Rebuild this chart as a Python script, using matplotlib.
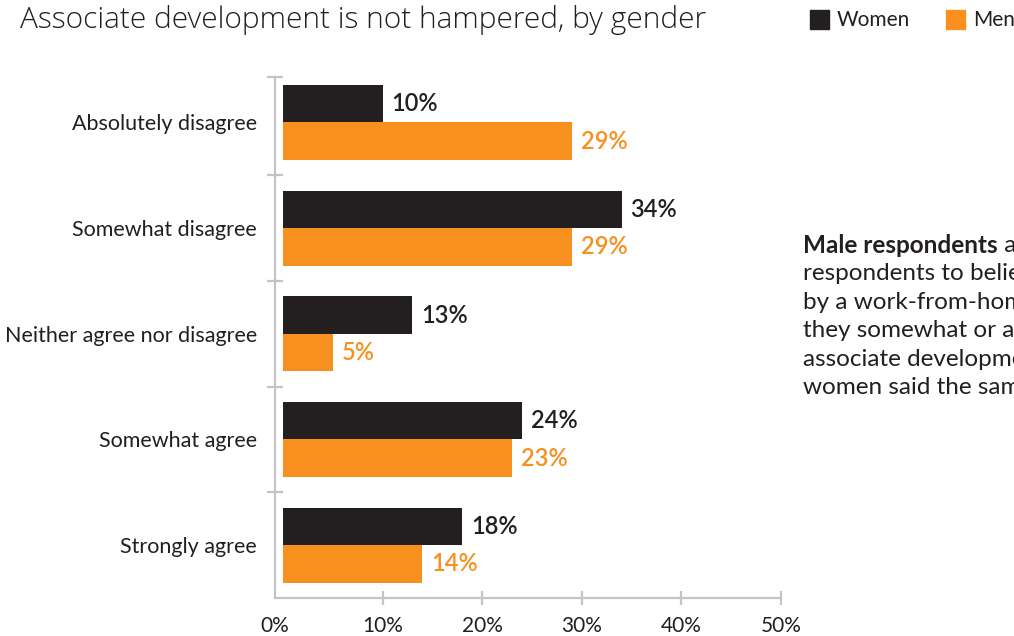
import matplotlib
matplotlib.use("Agg")
import matplotlib.pyplot as plt
from matplotlib.patches import Rectangle
from matplotlib.transforms import ScaledTranslation
import numpy as np

categories = ["Absolutely disagree", "Somewhat disagree", "Neither agree nor disagree",
              "Somewhat agree", "Strongly agree"]
women = [10, 34, 13, 24, 18]
men = [29, 29, 5, 23, 14]
xticks = [0, 10, 20, 30, 40, 50]
xtick_labels = ["0%", "10%", "20%", "30%", "40%", "50%"]

BLACK = "#231f20"
ORANGE = "#f7901e"
GREY = "#c4c4c6"
TEXT = "#231f20"

W, H = 1014, 636
fig = plt.figure(figsize=(W / 100, H / 100), dpi=100)
fig.patch.set_facecolor("white")

def fx(px):
    return px / W

def fy(py):
    return 1 - py / H

ax = fig.add_axes([fx(275), fy(598), fx(781) - fx(275), fy(77) - fy(598)])

y = np.arange(len(categories))
bh = 0.355
ax.barh(y - bh / 2, women, height=bh, color=BLACK, zorder=3)
ax.barh(y + bh / 2, men, height=bh, color=ORANGE, zorder=3)

for i in range(len(categories)):
    ax.text(women[i] + 0.9, y[i] - bh / 2, f"{women[i]}%", va="center", ha="left",
            fontsize=17, color=TEXT, family="Lato", fontweight="semibold")
    ax.text(men[i] + 0.9, y[i] + bh / 2, f"{men[i]}%", va="center", ha="left",
            fontsize=17, color=ORANGE, family="Lato", fontweight="semibold")

ax.set_xlim(-0.8, 50)
ax.set_ylim(len(categories) - 0.5, -0.43)

for s in ["top", "right"]:
    ax.spines[s].set_visible(False)
for s in ["left", "bottom"]:
    ax.spines[s].set_color(GREY)
    ax.spines[s].set_linewidth(1.6)

ax.set_xticks(xticks)
ax.set_xticklabels(xtick_labels, family="Lato", fontsize=15, color=TEXT)
ax.tick_params(axis="x", direction="inout", length=9.5, width=1.6, color=GREY, pad=8)
# the zero tick sits on the spine corner: hide its mark, nudge its label left
ax.xaxis.get_major_ticks()[0].tick1line.set_visible(False)
zero_lbl = ax.get_xticklabels()[0]
zero_lbl.set_transform(zero_lbl.get_transform() + ScaledTranslation(-8 / 100, 0, fig.dpi_scale_trans))

ax.set_yticks(y)
ax.set_yticklabels(categories, family="Lato", fontsize=15.5, color=TEXT)
ax.tick_params(axis="y", which="major", length=0, pad=13)
ax.set_yticks([-0.43, 0.5, 1.5, 2.5, 3.5], minor=True)
ax.tick_params(axis="y", which="minor", direction="inout", length=11.5, width=1.6, color=GREY)

# Title
fig.text(fx(20), fy(20), "Associate development is not hampered, by gender",
         family="Open Sans", fontweight="light", fontsize=21.5, color=TEXT,
         ha="left", va="center")

# Legend
for x0, lab, col in [(810, "Women", BLACK), (946, "Men", ORANGE)]:
    fig.add_artist(Rectangle((fx(x0), fy(29)), fx(19), fy(10) - fy(29),
                             transform=fig.transFigure, color=col))
    fig.text(fx(x0 + 27), fy(20), lab, family="Lato", fontsize=15, color=TEXT,
             ha="left", va="center")

# Side note
lines = [
    None,
    "respondents to believe they are not hampered",
    "by a work-from-home environment: 58% said",
    "they somewhat or absolutely disagree that",
    "associate development is hampered; 44% of",
    "women said the same.",
]
x_note = fx(803)
y0 = 245
step = 28.6
bold = fig.text(x_note, fy(y0), "Male respondents", family="Lato", fontweight="bold",
                fontsize=17.5, color=TEXT, ha="left", va="center")
fig.canvas.draw()
bb = bold.get_window_extent(renderer=fig.canvas.get_renderer())
fig.text(bb.x1 / W, fy(y0), " are more likely than female", family="Lato",
         fontsize=17.5, color=TEXT, ha="left", va="center")
for k, line in enumerate(lines):
    if line is None:
        continue
    fig.text(x_note, fy(y0 + k * step), line, family="Lato", fontsize=17.5,
             color=TEXT, ha="left", va="center")

fig.savefig("out.png", dpi=100, facecolor="white")
